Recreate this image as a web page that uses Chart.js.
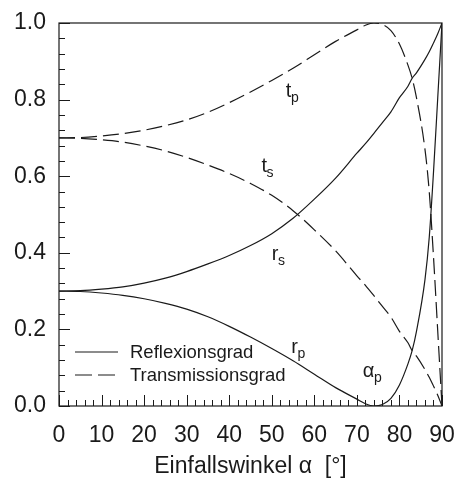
<!DOCTYPE html>
<html lang="de">
<head>
    <meta charset="UTF-8">
    <title>Reflexions- und Transmissionsgrad</title>
    <script src="https://cdn.jsdelivr.net/npm/chart.js"></script>
    <style>
        body { margin: 0; background: #fff; }
    </style>
</head>
<body>
    <canvas id="grafico" width="458" height="482"></canvas>
    <script>
        // Einfallswinkel in Grad
        const winkel = [0, 5, 10, 15, 20, 25, 30, 35, 40, 45, 50, 55, 60, 65, 70, 72, 74, 76, 78, 80, 82, 83, 84, 86, 87, 88, 89, 90];
        const rs = [0.300, 0.301, 0.305, 0.311, 0.321, 0.334, 0.351, 0.371, 0.393, 0.419, 0.450, 0.490, 0.540, 0.595, 0.660, 0.685, 0.712, 0.740, 0.768, 0.805, 0.835, 0.856, 0.870, 0.905, 0.925, 0.948, 0.972, 1.000];
        const ts = [0.700, 0.699, 0.695, 0.689, 0.679, 0.666, 0.649, 0.629, 0.607, 0.581, 0.550, 0.510, 0.460, 0.405, 0.340, 0.315, 0.288, 0.260, 0.232, 0.195, 0.165, 0.144, 0.130, 0.095, 0.075, 0.052, 0.028, 0.000];
        const rp = [0.300, 0.299, 0.295, 0.289, 0.280, 0.268, 0.253, 0.233, 0.208, 0.180, 0.150, 0.118, 0.083, 0.048, 0.018, 0.006, 0.000, 0.004, 0.020, 0.055, 0.110, 0.145, 0.195, 0.330, 0.440, 0.610, 0.805, 1.000];
        const tp = [0.700, 0.701, 0.705, 0.711, 0.720, 0.732, 0.747, 0.767, 0.792, 0.820, 0.850, 0.882, 0.917, 0.952, 0.982, 0.994, 1.000, 0.996, 0.980, 0.945, 0.890, 0.855, 0.805, 0.670, 0.560, 0.390, 0.195, 0.000];

        const xTicks = [0, 10, 20, 30, 40, 50, 60, 70, 80, 90];
        const yTicks = [0.0, 0.2, 0.4, 0.6, 0.8, 1.0];
        const legende = ['Reflexionsgrad', 'Transmissionsgrad'];

        const schwarz = '#1a1a1a';
        const schrift = 'Liberation Sans, Arial, Helvetica, sans-serif';

        function punkte(werte) {
            return winkel.map((w, i) => ({ x: w, y: werte[i] }));
        }

        function kurve(werte, gestrichelt) {
            return {
                data: punkte(werte),
                showLine: true,
                borderColor: schwarz,
                borderWidth: 1.2,
                borderDash: gestrichelt ? [16, 6] : [],
                pointRadius: 0,
                cubicInterpolationMode: 'monotone',
                fill: false
            };
        }

        // Rahmen, Ticks nach innen, Kurvenbeschriftung und Legende
        const rahmen = {
            id: 'rahmen',
            afterDatasetsDraw(chart) {
                const { ctx, chartArea: a, scales: { x, y } } = chart;
                ctx.save();
                ctx.strokeStyle = schwarz;
                ctx.lineWidth = 1.2;
                ctx.setLineDash([]);
                ctx.strokeRect(a.left, a.top, a.right - a.left, a.bottom - a.top);

                ctx.beginPath();
                for (let i = 0; i <= 45; i++) {
                    const px = Math.round(x.getPixelForValue(i * 2)) + 0.5;
                    const len = i % 5 === 0 ? 11 : 6;
                    ctx.moveTo(px, a.bottom);
                    ctx.lineTo(px, a.bottom - len);
                }
                for (let i = 0; i <= 25; i++) {
                    const py = Math.round(y.getPixelForValue(i * 0.04)) + 0.5;
                    const len = i % 5 === 0 ? 11 : 6;
                    ctx.moveTo(a.left, py);
                    ctx.lineTo(a.left + len, py);
                }
                ctx.lineWidth = 1;
                ctx.stroke();

                const namen = [
                    { t: 't', s: 'p', x: 53.3, y: 0.807 },
                    { t: 't', s: 's', x: 47.6, y: 0.611 },
                    { t: 'r', s: 's', x: 50.0, y: 0.381 },
                    { t: 'r', s: 'p', x: 54.6, y: 0.138 },
                    { t: '\u03b1', s: 'p', x: 71.4, y: 0.076 }
                ];
                ctx.fillStyle = schwarz;
                ctx.textBaseline = 'alphabetic';
                ctx.textAlign = 'left';
                namen.forEach(n => {
                    const px = x.getPixelForValue(n.x);
                    const py = y.getPixelForValue(n.y);
                    ctx.font = '20px ' + schrift;
                    ctx.fillText(n.t, px, py);
                    const w = ctx.measureText(n.t).width;
                    ctx.font = '14px ' + schrift;
                    ctx.fillText(n.s, px + w - 0.5, py + 5);
                });

                // Legende unten links
                const lx = a.left + 16;
                const zeilen = [a.bottom - 54, a.bottom - 31];
                ctx.lineWidth = 1.2;
                zeilen.forEach((zy, i) => {
                    ctx.setLineDash(i === 1 ? [17, 6] : []);
                    ctx.beginPath();
                    ctx.moveTo(lx, zy);
                    ctx.lineTo(lx + 43, zy);
                    ctx.stroke();
                    ctx.setLineDash([]);
                    ctx.font = '18.5px ' + schrift;
                    ctx.textBaseline = 'middle';
                    ctx.fillText(legende[i], lx + 55, zy + 1);
                });
                ctx.restore();
            }
        };

        new Chart(document.getElementById('grafico'), {
            type: 'scatter',
            data: {
                datasets: [kurve(rs, false), kurve(rp, false), kurve(ts, true), kurve(tp, true)]
            },
            options: {
                responsive: false,
                animation: false,
                layout: { padding: { top: 23, right: 16, left: 0, bottom: 0 } },
                plugins: {
                    legend: { display: false },
                    tooltip: { enabled: false }
                },
                scales: {
                    x: {
                        type: 'linear',
                        min: 0,
                        max: 90,
                        afterBuildTicks: s => { s.ticks = xTicks.map(v => ({ value: v })); },
                        afterFit: s => { s.height = 76; s.paddingLeft = 0; s.paddingRight = 0; },
                        grid: { display: false, drawTicks: false },
                        border: { display: false },
                        ticks: {
                            padding: 16,
                            color: schwarz,
                            maxRotation: 0,
                            font: { family: schrift, size: 23 }
                        },
                        title: {
                            display: true,
                            text: 'Einfallswinkel \u03b1  [\u00b0]',
                            color: schwarz,
                            font: { family: schrift, size: 23 },
                            padding: { top: 0, bottom: 2 }
                        }
                    },
                    y: {
                        type: 'linear',
                        min: 0,
                        max: 1,
                        afterBuildTicks: s => { s.ticks = yTicks.map(v => ({ value: v })); },
                        afterFit: s => { s.width = 59; s.paddingTop = 0; s.paddingBottom = 0; },
                        grid: { display: false, drawTicks: false },
                        border: { display: false },
                        ticks: {
                            padding: 13,
                            color: schwarz,
                            font: { family: schrift, size: 23 },
                            callback: v => v.toFixed(1)
                        }
                    }
                }
            },
            plugins: [rahmen]
        });
    </script>
</body>
</html>
